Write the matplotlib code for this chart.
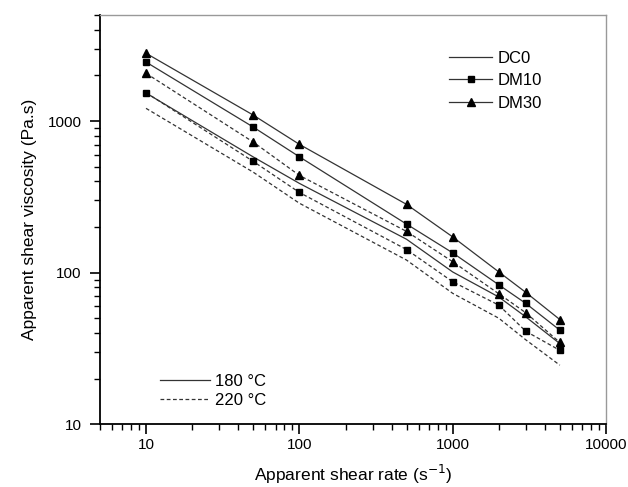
import numpy as np
import matplotlib
matplotlib.use("Agg")
import matplotlib.pyplot as plt
from matplotlib.ticker import FixedLocator, FixedFormatter, LogLocator, NullFormatter
from matplotlib.lines import Line2D

plt.rcParams['font.family'] = ['Liberation Sans', 'DejaVu Sans']

# apparent shear rate (1/s)
rate = [10, 50, 100, 500, 1000, 2000, 3000, 5000]

# apparent shear viscosity (Pa.s)
dc0_180 = [1530, 580, 388, 166, 101, 69, 51, 34]
dc0_220 = [1213, 460, 287, 121, 73, 50, 36, 24.5]
dm10_180 = [2450, 913, 581, 209, 135, 83, 62.6, 41.7]
dm10_220 = [1540, 542, 338, 142, 87, 61, 41, 30.7]
dm30_180 = [2800, 1095, 702, 282, 172, 101, 74, 49]
dm30_220 = [2065, 727, 438, 187, 118, 72.5, 54.3, 34.6]

x_ticks = [10, 100, 1000, 10000]
y_ticks = [10, 100, 1000]

fig = plt.figure(figsize=(6.28, 4.87), dpi=100)
ax = fig.add_axes([0.159, 0.129, 0.806, 0.840])

lc = '#333333'
dash = (0, (3, 2))
ax.plot(rate, dc0_180, color=lc, lw=0.9)
ax.plot(rate, dc0_220, color=lc, lw=0.9, ls=dash)
ax.plot(rate, dm10_180, color=lc, lw=0.9, marker='s', ms=5, mfc='black', mec='black')
ax.plot(rate, dm10_220, color=lc, lw=0.9, ls=dash, marker='s', ms=5, mfc='black', mec='black')
ax.plot(rate, dm30_180, color=lc, lw=0.9, marker='^', ms=6, mfc='black', mec='black')
ax.plot(rate, dm30_220, color=lc, lw=0.9, ls=dash, marker='^', ms=6, mfc='black', mec='black')

ax.set_xscale('log')
ax.set_yscale('log')
ax.set_xlim(5, 10000)
ax.set_ylim(10, 5000)

ax.xaxis.set_major_locator(FixedLocator(x_ticks))
ax.xaxis.set_major_formatter(FixedFormatter([str(v) for v in x_ticks]))
ax.yaxis.set_major_locator(FixedLocator(y_ticks))
ax.yaxis.set_major_formatter(FixedFormatter([str(v) for v in y_ticks]))
ax.xaxis.set_minor_locator(LogLocator(base=10, subs=np.arange(2, 10)))
ax.yaxis.set_minor_locator(LogLocator(base=10, subs=np.arange(2, 10)))
ax.xaxis.set_minor_formatter(NullFormatter())
ax.yaxis.set_minor_formatter(NullFormatter())

ax.tick_params(which='major', direction='out', length=7, width=1.2, labelsize=11)
ax.tick_params(which='minor', direction='out', length=4, width=1.0)
ax.tick_params(axis='y', which='major', pad=6)
ax.tick_params(axis='x', which='major', pad=3)

for s in ['left', 'bottom']:
    ax.spines[s].set_linewidth(1.3)
    ax.spines[s].set_color('black')
for s in ['top', 'right']:
    ax.spines[s].set_linewidth(1.0)
    ax.spines[s].set_color('#999999')

ax.set_xlabel('Apparent shear rate (s$^{-1}$)', fontsize=12.5, labelpad=8)
ax.set_ylabel('Apparent shear viscosity (Pa.s)', fontsize=12.5, labelpad=8)

h1 = [Line2D([], [], color=lc, lw=0.9),
      Line2D([], [], color=lc, lw=0.9, marker='s', ms=5, mfc='black', mec='black'),
      Line2D([], [], color=lc, lw=0.9, marker='^', ms=6, mfc='black', mec='black')]
leg1 = ax.legend(h1, ['DC0', 'DM10', 'DM30'], loc='upper left',
                 bbox_to_anchor=(0.66, 0.95), frameon=False, fontsize=12,
                 handlelength=2.6, handletextpad=0.3, labelspacing=0.45)
ax.add_artist(leg1)

h2 = [Line2D([], [], color=lc, lw=0.9),
      Line2D([], [], color=lc, lw=0.9, ls=dash)]
ax.legend(h2, ['180 °C', '220 °C'], loc='upper left',
          bbox_to_anchor=(0.09, 0.16), frameon=False, fontsize=12,
          handlelength=3.0, handletextpad=0.3, labelspacing=0.25)

fig.savefig('out.png', dpi=100)
